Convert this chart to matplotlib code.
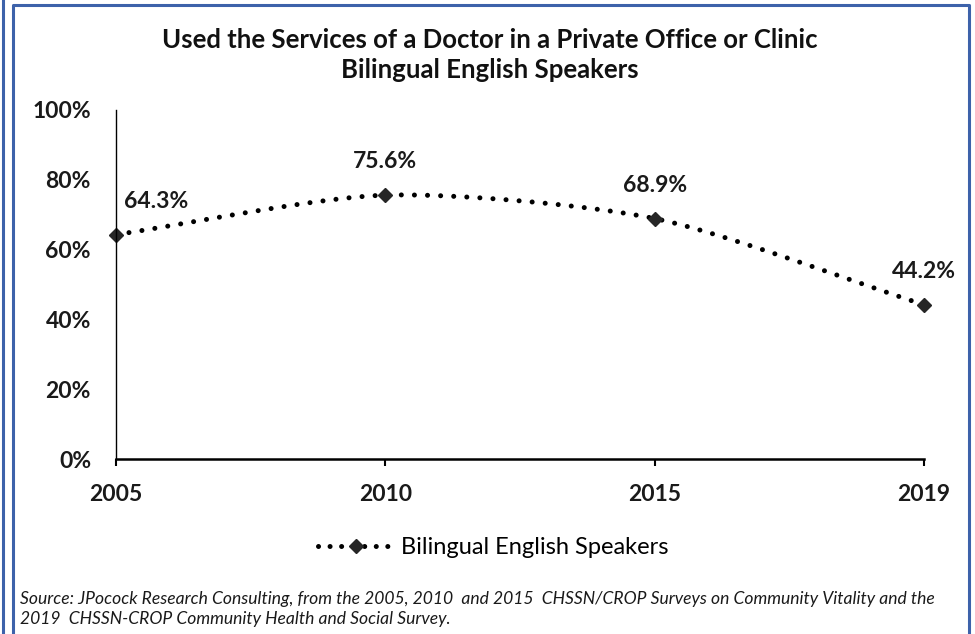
import numpy as np
import matplotlib.pyplot as plt
from matplotlib.lines import Line2D

years = ['2005', '2010', '2015', '2019']
values = [64.3, 75.6, 68.9, 44.2]
series_name = 'Bilingual English Speakers'
title = 'Used the Services of a Doctor in a Private Office or Clinic\nBilingual English Speakers'
source = ('Source: JPocock Research Consulting, from the 2005, 2010  and 2015  CHSSN/CROP Surveys on Community Vitality and the\n'
          '2019  CHSSN-CROP Community Health and Social Survey.')

plt.rcParams['font.family'] = ['Lato', 'DejaVu Sans']

W, H = 975, 634
fig = plt.figure(figsize=(W / 100, H / 100), dpi=100)
ax = fig.add_axes([116 / W, 1 - 459 / H, (924 - 116) / W, (459 - 110) / H])


def smooth(x, y, n=40, k=0.38):
    # cardinal spline, a bit like excel's smoothed line
    x = np.asarray(x, float)
    y = np.asarray(y, float)
    px = np.concatenate([[2 * x[0] - x[1]], x, [2 * x[-1] - x[-2]]])
    py = np.concatenate([[2 * y[0] - y[1]], y, [2 * y[-1] - y[-2]]])
    xs, ys = [], []
    t = np.linspace(0, 1, n)
    for i in range(1, len(px) - 2):
        p0, p1, p2, p3 = [np.array([px[j], py[j]]) for j in range(i - 1, i + 3)]
        m1 = k * (p2 - p0)
        m2 = k * (p3 - p1)
        for tt in t:
            h00 = 2 * tt ** 3 - 3 * tt ** 2 + 1
            h10 = tt ** 3 - 2 * tt ** 2 + tt
            h01 = -2 * tt ** 3 + 3 * tt ** 2
            h11 = tt ** 3 - tt ** 2
            pt = h00 * p1 + h10 * m1 + h01 * p2 + h11 * m2
            xs.append(pt[0])
            ys.append(pt[1])
    return np.array(xs), np.array(ys)


xpos = np.arange(len(years))
sx, sy = smooth(xpos, values)
lw = 3.6
ax.plot(sx, sy, color='black', lw=lw, linestyle=(0, (0.01, 9.4 / lw)),
        dash_capstyle='round')
ax.plot(xpos, values, linestyle='none', marker='D', ms=7.5, color='#262626', clip_on=False)

offsets = [(29, 24), (0, 24), (0, 24), (0, 24)]
for x, v, off in zip(xpos, values, offsets):
    ax.annotate(f'{v:.1f}%', (x, v), xytext=off, textcoords='offset points',
                ha='center', va='center', fontsize=16.5, fontweight='bold', color='#1a1a1a')

ax.set_xlim(0, len(years) - 1)
ax.set_ylim(0, 100)
ax.set_yticks([0, 20, 40, 60, 80, 100])
ax.set_yticklabels([f'{t}%' for t in range(0, 101, 20)])
ax.set_xticks(xpos)
ax.set_xticklabels(years)
for lab in ax.get_xticklabels() + ax.get_yticklabels():
    lab.set_fontweight('bold')
    lab.set_fontsize(16.5)
    lab.set_color('#1a1a1a')
ax.tick_params(axis='y', length=0, pad=18)
ax.tick_params(axis='x', length=5, width=1.5, pad=13, direction='out')
ax.spines['top'].set_visible(False)
ax.spines['right'].set_visible(False)
ax.spines['left'].set_linewidth(1.0)
ax.spines['bottom'].set_linewidth(1.8)

fig.text(490 / W, 1 - 55 / H, title, ha='center', va='center', fontsize=18.5,
         fontweight='bold', color='#111111', linespacing=1.3)

handle = Line2D([0], [0], color='black', lw=lw, linestyle=(0, (0.01, 2.3)),
                dash_capstyle='round', marker='D', ms=7.5, markerfacecolor='#262626',
                markeredgecolor='#262626')
fig.legend([handle], [series_name], loc='center', bbox_to_anchor=(493 / W, 1 - 548 / H),
           frameon=False, fontsize=17, handlelength=3.2, handletextpad=0.3)

fig.text(20 / W, 1 - 609 / H, source, ha='left', va='center', fontsize=12.6,
         style='italic', color='#1a1a1a', linespacing=1.35)

blue = '#3d62aa'
fig.add_artist(Line2D([3 / W, 3 / W], [0, 1], color=blue, lw=2.2, transform=fig.transFigure))
fig.add_artist(Line2D([13 / W, 13 / W, 969 / W, 969 / W], [0, 1 - 5 / H, 1 - 5 / H, 0],
                      color=blue, lw=2.2, transform=fig.transFigure))

fig.savefig('out.png', dpi=100)
